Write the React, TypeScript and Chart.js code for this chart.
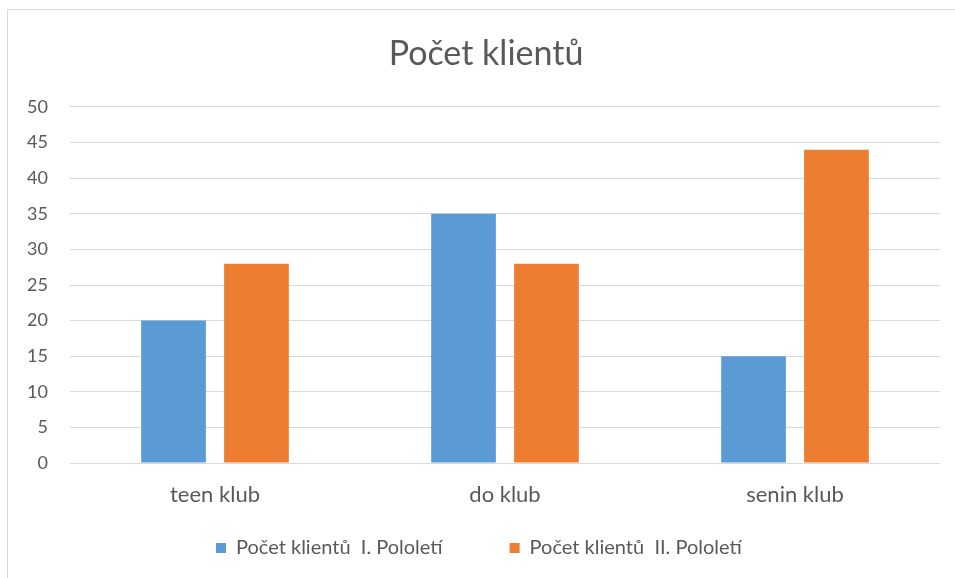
import React, { useEffect, useRef } from "react";
import { Chart, registerables } from "chart.js";

Chart.register(...registerables);

const chartTitle = "Počet klientů";
const categories = ["teen klub", "do klub", "senin klub"];
const series1Label = "Počet klientů  I. Pololetí";
const series1Values = [20, 35, 15];
const series2Label = "Počet klientů  II. Pololetí";
const series2Values = [28, 28, 44];
const yMin = 0;
const yMax = 50;
const yStep = 5;

const FONT = "Lato, 'Open Sans', sans-serif";
const TEXT = "#595959";
const GRID = "#D9D9D9";
const BLUE = "#5B9BD5";
const ORANGE = "#ED7D31";

const LEGEND_FS = 20;
const LEGEND_PAD = 67;

const placeBoxes = {
  id: "placeBoxes",
  afterLayout(chart: any) {
    const l = chart.legend;
    if (l && l.lineWidths) {
      const lw = l.lineWidths[0];
      const startX = 216;
      l.left = 0;
      l.right = 2 * startX - LEGEND_PAD + lw;
      l.width = l.right - l.left;
      const itemH = Math.max(LEGEND_FS, 10);
      l.top = 548 - LEGEND_PAD - itemH / 2;
      l.bottom = 578;
      l.height = l.bottom - l.top;
    }
    const t = chart.titleBlock;
    if (t) {
      t.left = 0;
      t.right = 972;
      t.width = 972;
    }
  },
};

export default function App() {
  const ref = useRef<HTMLCanvasElement | null>(null);
  useEffect(() => {
    if (!ref.current) return;
    const chart = new Chart(ref.current, {
      type: "bar",
      data: {
        labels: categories,
        datasets: [
          {
            label: series1Label,
            data: series1Values,
            backgroundColor: BLUE,
            barPercentage: 0.78,
            categoryPercentage: 0.572,
          },
          {
            label: series2Label,
            data: series2Values,
            backgroundColor: ORANGE,
            barPercentage: 0.78,
            categoryPercentage: 0.572,
          },
        ],
      },
      options: {
        responsive: false,
        animation: false,
        layout: { padding: { left: 0, right: 15, top: 0, bottom: 35 } },
        plugins: {
          title: {
            display: true,
            text: chartTitle,
            color: TEXT,
            font: { family: FONT, size: 34, weight: "normal" },
            padding: { top: 33.8, bottom: 32.4 },
          },
          legend: {
            position: "bottom",
            maxHeight: 30,
            labels: {
              boxWidth: 10,
              boxHeight: 10,
              padding: LEGEND_PAD,
              color: TEXT,
              font: { family: FONT, size: LEGEND_FS },
            },
          },
          tooltip: { enabled: false },
        },
        scales: {
          x: {
            grid: { display: false },
            border: { display: false },
            ticks: { color: TEXT, font: { family: FONT, size: 22 }, padding: 11 },
            afterFit: (s: any) => {
              s.height = 50;
            },
          },
          y: {
            min: yMin,
            max: yMax,
            ticks: { stepSize: yStep, color: TEXT, font: { family: FONT, size: 18 }, padding: 22 },
            grid: { color: GRID, drawTicks: false, lineWidth: 1 },
            border: { display: false },
            afterFit: (s: any) => {
              s.width = 70;
            },
          },
        },
      },
      plugins: [placeBoxes],
    } as any);
    return () => chart.destroy();
  }, []);

  return (
    <div
      style={{
        position: "fixed",
        left: 0,
        top: 0,
        width: 955,
        height: 578,
        overflow: "hidden",
        background: "#fff",
      }}
    >
      <div
        style={{
          position: "absolute",
          left: 7,
          top: 9,
          width: 960,
          height: 600,
          border: "1px solid #D9D9D9",
        }}
      />
      <canvas
        ref={ref}
        width={955}
        height={578}
        style={{ position: "absolute", left: 0, top: 0, display: "block" }}
      />
    </div>
  );
}
